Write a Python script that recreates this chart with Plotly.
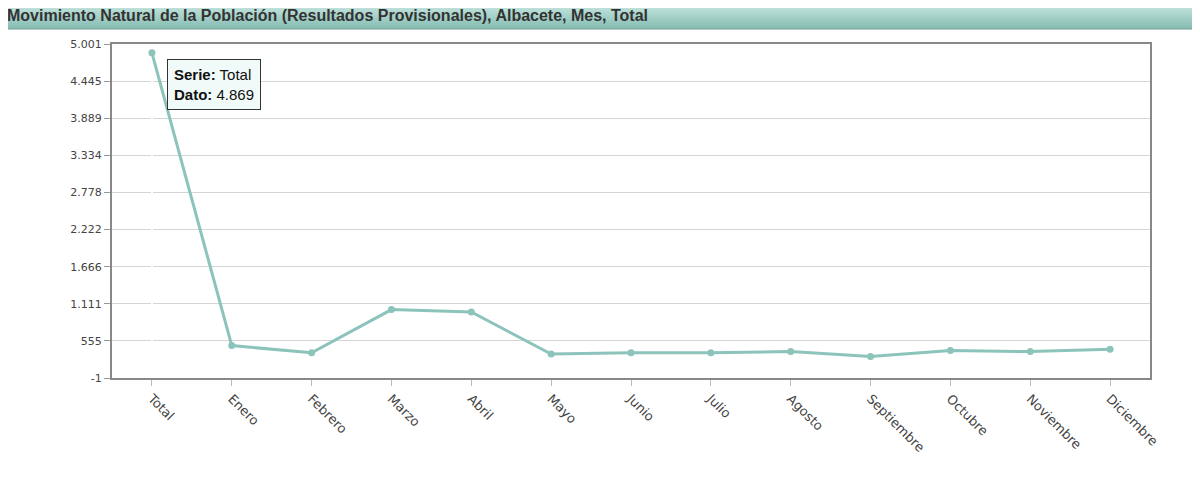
import plotly.graph_objects as go

categories = ["Total","Enero","Febrero","Marzo","Abril","Mayo","Junio","Julio","Agosto","Septiembre","Octubre","Noviembre","Diciembre"]
values = [4869, 484, 376, 1023, 987, 358, 376, 376, 394, 322, 412, 394, 430]
ytick_vals = [-1, 555, 1111, 1666, 2222, 2778, 3334, 3889, 4445, 5001]
ytick_text = ["-1", "555", "1.111", "1.666", "2.222", "2.778", "3.334", "3.889", "4.445", "5.001"]
title = "Movimiento Natural de la Población (Resultados Provisionales), Albacete, Mes, Total"

W, H = 1200, 485
L, R, T, B = 104, 58, 36, 115
PW, PH = W - L - R, H - T - B
OFF = 8  # page offset of figure

def px(x):  # page x -> paper
    return (x - OFF - L) / PW

def py(y):  # page y -> paper
    return 1 - (y - OFF - T) / PH

fig = go.Figure(go.Scatter(
    x=list(range(len(categories))), y=values, mode="lines+markers",
    line=dict(color="#8cc4bb", width=3), marker=dict(color="#8cc4bb", size=7),
))

shapes = []
top, bot = (206, 234, 228), (134, 190, 180)
n = 14
ya0, ya1 = 1, 29
for i in range(n):
    t = i/(n-1)
    c = tuple(int(top[k] + (bot[k]-top[k])*t) for k in range(3))
    a = ya0 + (ya1-ya0)*i/n
    b = ya0 + (ya1-ya0)*(i+1)/n
    shapes.append(dict(type="rect", xref="paper", yref="paper", layer="below",
                       x0=px(1), x1=px(1195), y0=py(b), y1=py(a), line=dict(width=0),
                       fillcolor="rgb(%d,%d,%d)" % c))
shapes.append(dict(type="rect", xref="paper", yref="paper", x0=px(1), x1=px(1195), y0=py(ya1), y1=py(ya0),
                   line=dict(color="#7a9e98", width=1), fillcolor="rgba(0,0,0,0)"))

fig.update_layout(
    width=W, height=H, margin=dict(l=L, r=R, t=T, b=B),
    paper_bgcolor="white", plot_bgcolor="white", showlegend=False,
    font=dict(family="DejaVu Sans", size=12, color="#444"),
    shapes=shapes,
    xaxis=dict(
        range=[-0.5, len(categories)-0.5], tickmode="array",
        tickvals=list(range(len(categories))), ticktext=categories,
        tickangle=45, showgrid=False, showline=True, linecolor="#888", linewidth=2,
        mirror=True, ticks="outside", ticklen=6, tickcolor="#bbb",
        tickfont=dict(family="DejaVu Sans", size=13, color="#444"),
    ),
    yaxis=dict(
        range=[-1, 5001], tickmode="array", tickvals=ytick_vals, ticktext=ytick_text,
        showgrid=True, gridcolor="#d5d5d5", showline=True, linecolor="#888", linewidth=2,
        mirror=True, ticks="outside", ticklen=6, tickcolor="#999", zeroline=False,
        tickfont=dict(family="DejaVu Sans", size=11, color="#444"),
    ),
    annotations=[
        dict(xref="paper", yref="paper", x=px(5), y=py(15), xanchor="left", yanchor="middle",
             text="<b>" + title + "</b>", showarrow=False,
             font=dict(family="Liberation Sans", size=16, color="#333")),
        dict(x=0, y=values[0], xref="x", yref="y", xanchor="left", yanchor="top", align="left",
             showarrow=False, xshift=15, yshift=-6,
             text="<b>Serie:</b> " + categories[0] + "<br><b>Dato:</b> " + f"{values[0]:,}".replace(",", "."),
             bgcolor="#f0faf8", bordercolor="#333", borderwidth=1, borderpad=6,
             font=dict(family="Liberation Sans", size=15, color="#111")),
    ],
)
fig.write_html("out.html")
